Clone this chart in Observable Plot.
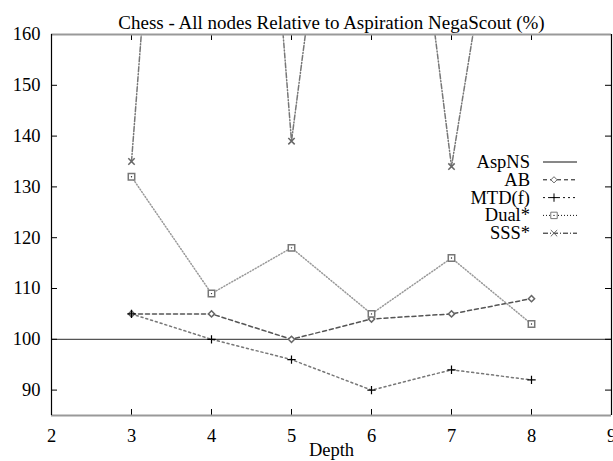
<!DOCTYPE html>
<html>
<head>
<meta charset="utf-8">
<script src="https://cdn.jsdelivr.net/npm/d3@7"></script>
<script src="https://cdn.jsdelivr.net/npm/@observablehq/plot@0.6"></script>
<style>
  html, body { margin: 0; padding: 0; background: white; }
  svg text { font-family: "Liberation Serif", "DejaVu Serif", "Times New Roman", serif !important; }
</style>
</head>
<body>
<div id="chart"></div>
<script>
// ---- data ----
const depths = [3, 4, 5, 6, 7, 8];
const ab     = [105, 105, 100, 104, 105, 108];
const mtdf   = [105, 100, 96, 90, 94, 92];
const dual   = [132, 109, 118, 105, 116, 103];
const sss    = [135, 339, 139, 260, 134, 231];
const aspnsLevel = [100];
const seriesNames = ["AspNS", "AB", "MTD(f)", "Dual*", "SSS*"];
const xTicks = [2, 3, 4, 5, 6, 7, 8, 9];
const yTicks = [90, 100, 110, 120, 130, 140, 150, 160];
const xDomain = [2, 9];
const yDomain = [85, 160];
const titleText = "Chess - All nodes Relative to Aspiration NegaScout (%)";
const xLabel = "Depth";

// ---- build rows ----
const rowsOf = (vals) => depths.map((d, i) => ({depth: d, value: vals[i]}));
const abRows = rowsOf(ab), mtdRows = rowsOf(mtdf), dualRows = rowsOf(dual), sssRows = rowsOf(sss);

const W = 613, H = 461;
const mL = 51, mR = 2, mT = 34, mB = 46;
const fw = W - mL - mR, fh = H - mT - mB;
const tick = 6;
const FONT = "Liberation Serif, DejaVu Serif, Times New Roman, serif";

const styles = {
  "AspNS":  {stroke: "#555", dash: null, width: 1.2},
  "AB":     {stroke: "#555", dash: "4,3", width: 1},
  "MTD(f)": {stroke: "#777", dash: "2,3", width: 1},
  "Dual*":  {stroke: "#999", dash: "1,2", width: 1},
  "SSS*":   {stroke: "#777", dash: "5,2,1,2", width: 1}
};

const chart = Plot.plot({
  width: W, height: H,
  marginLeft: mL, marginRight: mR, marginTop: mT, marginBottom: mB,
  x: {domain: xDomain},
  y: {domain: yDomain},
  style: {fontFamily: FONT, fontSize: "18.5px", background: "white", color: "black", overflow: "visible"},
  marks: [
    Plot.ruleY(aspnsLevel, {y: d => d, stroke: styles["AspNS"].stroke, strokeWidth: styles["AspNS"].width}),
    Plot.line(abRows, {x: "depth", y: "value", stroke: styles["AB"].stroke, strokeDasharray: styles["AB"].dash, clip: true}),
    Plot.line(mtdRows, {x: "depth", y: "value", stroke: styles["MTD(f)"].stroke, strokeDasharray: styles["MTD(f)"].dash, clip: true}),
    Plot.line(dualRows, {x: "depth", y: "value", stroke: styles["Dual*"].stroke, strokeDasharray: styles["Dual*"].dash, clip: true}),
    Plot.line(sssRows, {x: "depth", y: "value", stroke: styles["SSS*"].stroke, strokeDasharray: styles["SSS*"].dash, clip: true}),
    Plot.dot(abRows, {x: "depth", y: "value", symbol: "diamond2", r: 2.8, stroke: "#666", fill: "white", clip: true}),
    Plot.dot(mtdRows, {x: "depth", y: "value", symbol: "plus", r: 2.8, stroke: "black", strokeWidth: 1.2, clip: true}),
    Plot.dot(dualRows, {x: "depth", y: "value", symbol: "square2", r: 4.1, stroke: "#777", fill: "white", clip: true}),
    Plot.dot(dualRows, {x: "depth", y: "value", r: 0.7, fill: "#222", clip: true}),
    Plot.dot(sssRows, {x: "depth", y: "value", symbol: "times", r: 3, stroke: "#666", clip: true}),
    // inner ticks on all four sides
    Plot.tickX(xTicks, {x: d => d, insetTop: fh - tick, stroke: "black"}),
    Plot.tickX(xTicks, {x: d => d, insetBottom: fh - tick, stroke: "black"}),
    Plot.tickY(yTicks, {y: d => d, insetRight: fw - tick, stroke: "black"}),
    Plot.tickY(yTicks, {y: d => d, insetLeft: fw - tick, stroke: "black"}),
    // frame
    Plot.ruleY(yDomain, {y: d => d, stroke: "#999", strokeWidth: 2}),
    Plot.ruleX(xDomain, {x: d => d, stroke: "black", strokeWidth: 1.2}),
    // tick labels
    Plot.axisX(xTicks, {tickSize: 0, tickPadding: 13, fontSize: 18.5, fontFamily: FONT, label: null}),
    Plot.axisY(yTicks, {tickSize: 0, tickPadding: 11, fontSize: 18.5, fontFamily: FONT, label: null}),
    Plot.text([titleText], {text: d => d, frameAnchor: "top", dy: -19, fontSize: 19, fontFamily: FONT}),
    Plot.text([xLabel], {text: d => d, frameAnchor: "bottom", dy: 40, fontSize: 18.5, fontFamily: FONT})
  ]
});

// ---- legend ----
const svg = d3.select(chart);
const right = W - mR;
const sym = {
  "AB": {type: d3.symbolDiamond2, r: 2.8, stroke: "#666", fill: "white"},
  "MTD(f)": {type: d3.symbolPlus, r: 2.8, stroke: "black", fill: "none"},
  "Dual*": {type: d3.symbolSquare2, r: 4.1, stroke: "#777", fill: "white"},
  "SSS*": {type: d3.symbolTimes, r: 3, stroke: "#666", fill: "none"}
};
const lg = svg.append("g").attr("font-size", 18.5).attr("font-family", FONT);
seriesNames.forEach((name, i) => {
  const y = mT + 128 + i * 17.8;
  const st = styles[name];
  lg.append("text").attr("x", right - 81).attr("y", y).attr("dy", "0.32em")
    .attr("text-anchor", "end").attr("fill", "black").text(name);
  lg.append("line").attr("x1", right - 68).attr("x2", right - 34).attr("y1", y).attr("y2", y)
    .attr("stroke", "#111").attr("stroke-width", 1)
    .attr("stroke-dasharray", st.dash);
  if (sym[name]) {
    const s = sym[name];
    lg.append("path").attr("transform", `translate(${right - 57},${y})`)
      .attr("d", d3.symbol(s.type, Math.PI * s.r * s.r)())
      .attr("stroke", s.stroke).attr("fill", s.fill);
    if (name === "Dual*") {
      lg.append("circle").attr("cx", right - 57).attr("cy", y).attr("r", 0.7).attr("fill", "#222");
    }
  }
});

document.getElementById("chart").appendChild(chart);
</script>
</body>
</html>
